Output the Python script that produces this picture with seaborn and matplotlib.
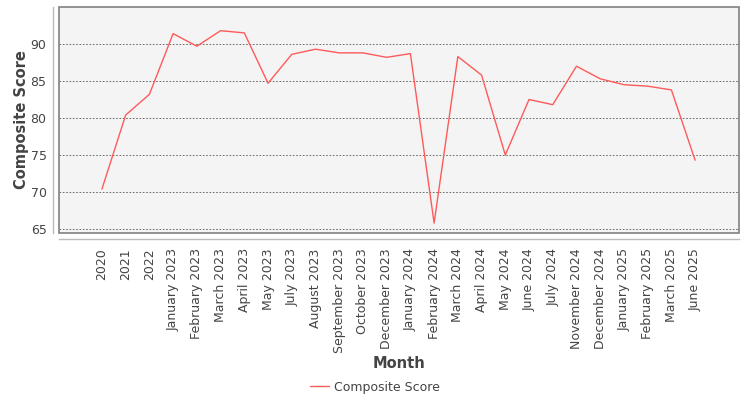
import matplotlib
matplotlib.use("Agg")
import matplotlib.pyplot as plt
from matplotlib.patches import Rectangle
import seaborn as sns
import pandas as pd

months = ["2020", "2021", "2022", "January 2023", "February 2023", "March 2023",
          "April 2023", "May 2023", "July 2023", "August 2023", "September 2023",
          "October 2023", "December 2023", "January 2024", "February 2024",
          "March 2024", "April 2024", "May 2024", "June 2024", "July 2024",
          "November 2024", "December 2024", "January 2025", "February 2025",
          "March 2025", "June 2025"]
scores = [70.4, 80.4, 83.2, 91.4, 89.7, 91.8, 91.5, 84.7, 88.6, 89.3, 88.8,
          88.8, 88.2, 88.7, 65.8, 88.3, 85.8, 75.0, 82.5, 81.8, 87.0, 85.3,
          84.5, 84.3, 83.8, 74.3]
y_ticks = [65, 70, 75, 80, 85, 90]

df = pd.DataFrame({"Month": months, "Composite Score": scores})

sns.set_style("white")
plt.rcParams["font.family"] = ["DejaVu Sans"]

fig = plt.figure(figsize=(7.5, 4), dpi=100)
ax = fig.add_axes([59/750, 1-233/400, (739-59)/750, (233-7)/400])
ax.set_facecolor("#f4f4f4")

sns.lineplot(data=df, x="Month", y="Composite Score", sort=False, ax=ax,
             color="#ff5a5a", linewidth=1.0, label="Composite Score", legend=False)

ax.set_xlim(-1.81, 26.85)
ax.set_ylim(64.46, 95.0)
ax.set_yticks(y_ticks)
ax.set_xticks(range(len(months)))
ax.set_xticklabels(months)

ax.yaxis.grid(True, linestyle=(0, (2, 2)), color="#555555", linewidth=0.6)
ax.xaxis.grid(False)

for s in ["top", "right"]:
    ax.spines[s].set_visible(False)
for s in ["left", "bottom"]:
    ax.spines[s].set_position(("outward", 4))
    ax.spines[s].set_color("#bbbbbb")
    ax.spines[s].set_linewidth(1.0)
ax.add_patch(Rectangle((0, 0), 1, 1, transform=ax.transAxes, fill=False,
                       edgecolor="#808080", linewidth=1.2, clip_on=False, zorder=5))

ax.tick_params(axis="both", colors="#bbbbbb", labelcolor="#444444", labelsize=9,
               length=3, width=0.8, direction="out", pad=2)
ax.tick_params(axis="x", pad=4, labelrotation=90)

ax.set_xlabel("Month", fontsize=10.5, fontweight="bold", color="#444444", labelpad=2)
ax.set_ylabel("Composite Score", fontsize=10.5, fontweight="bold", color="#444444", labelpad=1)

handles, labels = ax.get_legend_handles_labels()
fig.legend(handles, labels, loc="center", bbox_to_anchor=(0.5, 1-387/400),
           frameon=False, fontsize=9, handlelength=1.5, handletextpad=0.4,
           labelcolor="#444444")

fig.savefig("out.png", dpi=100, facecolor="white")
